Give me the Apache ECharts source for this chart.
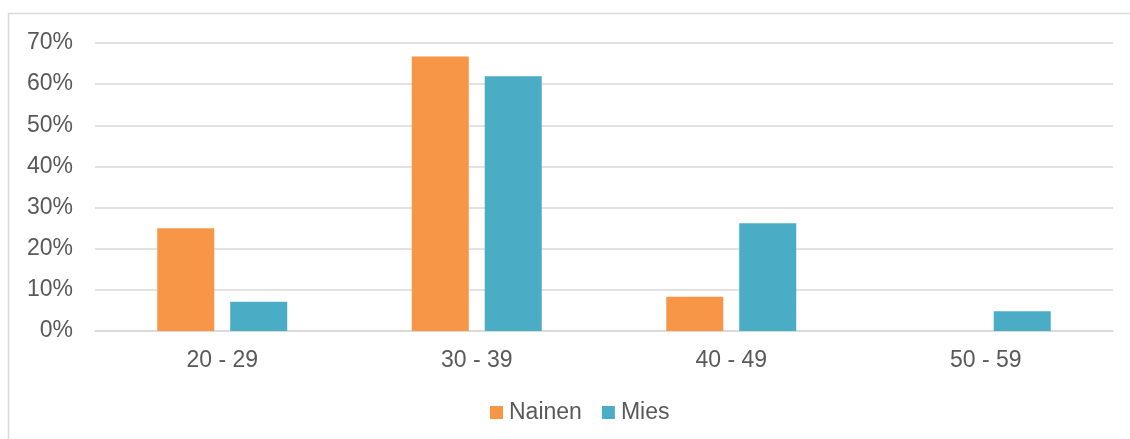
<!DOCTYPE html>
<html>
<head>
<meta charset="utf-8">
<script src="https://cdn.jsdelivr.net/npm/echarts@6/dist/echarts.min.js"></script>
<style>
  html, body { margin: 0; padding: 0; background: #fff; }
  #chart { width: 1130px; height: 439px; }
</style>
</head>
<body>
<div id="chart"></div>
<script>
// Age groups and share of respondents (%) by gender
const categories = ['20 - 29', '30 - 39', '40 - 49', '50 - 59'];
const nainen = [25.0, 66.7, 8.3, 0];
const mies = [7.1, 61.9, 26.2, 4.8];
const yTicks = [0, 10, 20, 30, 40, 50, 60, 70];

const textColor = '#595959';
const lineColor = '#d9d9d9';
const fontFamily = 'Liberation Sans, Arial, sans-serif';

const chart = echarts.init(document.getElementById('chart'), null, { renderer: 'canvas' });

chart.setOption({
  animation: false,
  backgroundColor: '#ffffff',
  textStyle: { fontFamily: fontFamily },
  graphic: [{
    type: 'rect',
    shape: { x: 8.5, y: 13.5, width: 1200, height: 1000 },
    style: { fill: 'none', stroke: lineColor, lineWidth: 1.5 },
    silent: true
  }],
  grid: { left: 95, right: 17, top: 43, bottom: 108, containLabel: false },
  legend: {
    data: ['Nainen', 'Mies'],
    bottom: 10,
    left: 485,
    itemWidth: 13,
    itemHeight: 13,
    itemGap: 20,
    icon: 'rect',
    textStyle: { color: textColor, fontSize: 23, fontFamily: fontFamily, padding: [0, 0, 0, 1] }
  },
  xAxis: {
    type: 'category',
    data: categories,
    axisLine: { show: true, lineStyle: { color: lineColor, width: 1.5 } },
    axisTick: { show: false },
    axisLabel: { color: textColor, fontSize: 23, margin: 18, fontFamily: fontFamily }
  },
  yAxis: {
    type: 'value',
    min: yTicks[0],
    max: yTicks[yTicks.length - 1],
    interval: 10,
    axisLine: { show: false },
    axisTick: { show: false },
    splitLine: { lineStyle: { color: lineColor, width: 1.5 } },
    axisLabel: { color: textColor, fontSize: 23, margin: 22, fontFamily: fontFamily, formatter: v => v + '%' }
  },
  series: [
    {
      name: 'Nainen',
      type: 'bar',
      data: nainen,
      barWidth: 57,
      barGap: '28%',
      itemStyle: { color: '#F79646' }
    },
    {
      name: 'Mies',
      type: 'bar',
      data: mies,
      barWidth: 57,
      barGap: '28%',
      itemStyle: { color: '#4BACC6' }
    }
  ]
});
</script>
</body>
</html>
